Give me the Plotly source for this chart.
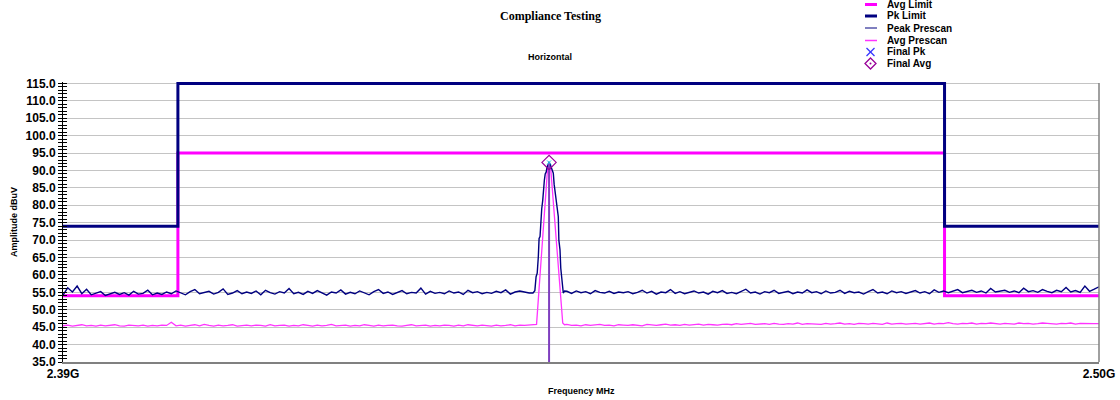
import plotly.graph_objects as go

# ---------------- data ----------------
FREQ_START = 2390.0      # MHz, sweep start
FREQ_STEP = 0.5          # MHz, prescan grid step
X_MIN, X_MAX = 2390.0, 2500.0
Y_MIN, Y_MAX = 35.0, 115.4

XTICK_VALS = [2390.0, 2500.0]
XTICK_TEXT = ["2.39G", "2.50G"]

# Limits (step lines, value holds until next frequency)
LIMIT_FREQ = [2390.0, 2402.2, 2483.6, 2500.0]
AVG_LIMIT = [54.0, 95.0, 54.0, 54.0]
PK_LIMIT = [74.0, 115.0, 74.0, 74.0]

# Peak prescan noise floor on 0.5 MHz grid (2390 .. 2500)
PEAK_NOISE = [
    54.2, 56.3, 55.1, 56.8, 54.6, 55.9, 54.3, 54.8, 55.2, 54.1, 54.6, 55.0, 54.4, 54.9, 54.2, 55.3, 54.5, 54.7, 55.6, 54.3,
    54.8, 54.4, 55.1, 54.6, 55.4, 54.9, 54.3, 55.2, 55.8, 54.6, 54.9, 55.3, 54.5, 55.0, 56.0, 54.4, 54.8, 55.5, 54.6, 55.1,
    54.7, 55.4, 54.3, 55.6, 54.9, 54.5, 55.2, 54.8, 56.1, 54.6, 55.0, 54.4, 55.3, 54.7, 55.5, 54.9, 54.2, 55.1, 54.8, 55.7,
    54.5, 55.0, 54.6, 55.4, 54.9, 54.3, 55.2, 55.8, 54.7, 55.1, 54.4, 54.9, 55.5, 54.6, 55.0, 54.8, 56.2, 54.5, 55.3, 54.7,
    55.0, 54.6, 55.4, 54.8, 55.1, 54.4, 55.6, 54.9, 55.2, 54.6, 55.0, 54.7, 55.3, 54.9, 55.7, 54.5, 55.1, 55.4, 55.0, 54.8,
    54.8, 55.0, 55.2, 55.0, 55.0, 55.0, 55.0, 55.3, 54.7, 55.4, 54.9, 55.2, 54.6, 55.5, 55.0, 54.8, 55.3, 54.7, 55.1, 54.9,
    55.2, 54.6, 55.0, 55.6, 54.8, 55.3, 54.5, 55.1, 54.9, 55.8, 54.7, 55.2, 54.6, 55.0, 55.4, 54.8, 55.1, 54.5, 55.3, 54.9,
    55.5, 54.7, 55.0, 54.6, 55.3, 55.9, 54.8, 55.1, 54.5, 55.2, 54.9, 55.6, 54.7, 55.0, 55.3, 54.6, 55.1, 54.8, 55.7, 54.9,
    55.2, 54.6, 55.4, 54.8, 55.0, 55.6, 54.7, 55.3, 54.9, 55.1, 54.5, 55.2, 55.8, 54.8, 55.1, 54.6, 55.4, 54.9, 55.2, 54.7,
    55.0, 55.5, 54.8, 55.2, 54.6, 55.7, 55.0, 55.4, 54.9, 55.3, 55.8, 54.9, 55.2, 55.6, 55.0, 55.4, 54.8, 56.1, 55.1, 55.3,
    55.6, 55.0, 55.4, 54.9, 56.2, 55.2, 55.5, 55.0, 55.8, 55.3, 54.9, 55.6, 55.2, 56.4, 55.1, 55.5, 55.0, 56.8, 55.3, 55.9,
    56.6,
]

# Average prescan noise floor on 0.5 MHz grid (2390 .. 2500)
AVG_NOISE = [
    45.4, 45.6, 45.3, 45.5, 45.7, 45.4, 45.5, 45.3, 45.6, 45.4, 45.5, 45.7, 45.4, 45.3, 45.6, 45.5, 45.4, 45.6, 45.3, 45.5,
    45.4, 45.6, 45.5, 46.4, 45.4, 45.6, 45.3, 45.5, 45.7, 45.4, 45.8, 45.5, 45.3, 45.6, 45.4, 45.5, 45.7, 45.3, 45.5, 45.6,
    45.4, 45.6, 45.5, 45.3, 45.7, 45.4, 45.5, 45.6, 45.3, 45.5, 45.4, 45.7, 45.5, 45.3, 45.6, 45.4, 45.5, 45.8, 45.4, 45.5,
    45.6, 45.3, 45.5, 45.4, 45.7, 45.5, 45.3, 45.6, 45.4, 45.5, 45.6, 45.4, 45.3, 45.5, 45.7, 45.4, 45.5, 45.6, 45.3, 45.5,
    45.4, 45.6, 45.5, 45.3, 45.6, 45.4, 45.7, 45.5, 45.4, 45.6, 45.5, 45.3, 45.6, 45.4, 45.5, 45.7, 45.4, 45.6, 45.5, 45.6,
    45.6, 45.5, 45.6, 45.6, 45.6, 45.6, 45.6, 45.8, 45.5, 45.6, 45.4, 45.7, 45.5, 45.6, 45.8, 45.5, 45.6, 45.4, 45.7, 45.6,
    45.5, 45.7, 45.6, 45.4, 45.8, 45.6, 45.5, 45.7, 45.9, 45.6, 45.7, 45.5, 45.8, 45.6, 45.7, 45.9, 45.6, 45.8, 45.7, 45.6,
    45.8, 45.9, 45.7, 46.0, 45.8, 45.9, 46.1, 45.8, 45.9, 46.0, 45.8, 46.1, 45.9, 45.8, 46.0, 45.9, 46.2, 45.8, 46.0, 45.9,
    46.0, 45.8, 46.1, 45.9, 46.0, 46.2, 45.9, 46.0, 45.8, 46.1, 46.0, 45.9, 46.1, 46.0, 45.8, 46.2, 45.9, 46.0, 46.1, 45.9,
    46.0, 46.1, 45.9, 46.0, 46.2, 45.9, 46.1, 46.0, 46.3, 46.0, 45.9, 46.1, 46.0, 46.2, 45.9, 46.1, 46.0, 46.2, 46.0, 45.9,
    46.1, 46.0, 45.9, 46.2, 46.0, 46.1, 45.9, 46.0, 46.2, 46.1, 46.0, 45.9, 46.1, 46.0, 46.2, 45.9, 46.1, 46.0, 46.1, 46.0,
    46.0,
]

# Carrier region, finer resolution
CARRIER_PK_FREQ = [2439.90, 2440.10, 2440.23, 2440.35, 2440.47, 2440.55, 2440.65, 2440.75, 2440.83, 2440.94,
                   2441.02, 2441.11, 2441.20, 2441.30, 2441.40, 2441.50, 2441.61, 2441.70, 2441.82, 2441.95,
                   2442.06, 2442.15, 2442.25, 2442.35, 2442.45, 2442.59, 2442.65, 2442.77, 2442.85, 2442.95,
                   2443.05, 2443.12, 2443.25]
CARRIER_PK_LEVEL = [54.8, 55.5, 59.5, 60.5, 65.3, 70.5, 71.0, 78.0, 79.0, 81.5,
                    86.0, 87.2, 89.0, 89.5, 91.0, 91.8, 92.3, 92.0, 91.2, 90.0,
                    89.2, 86.0, 84.0, 81.5, 79.0, 76.7, 70.0, 67.2, 62.0, 59.5,
                    56.0, 54.8, 55.4]
CARRIER_AVG_FREQ = [2440.00, 2440.28, 2441.45, 2441.61, 2441.80, 2442.64, 2443.06, 2443.25]
CARRIER_AVG_LEVEL = [45.6, 45.8, 90.5, 92.0, 90.0, 62.0, 46.2, 45.7]
CARRIER_LO, CARRIER_HI = 2439.8, 2443.3

# Final measurements
FINAL_FREQ = [2441.61]
FINAL_PK = [92.3]
FINAL_AVG = [92.3]

LEGEND_NAMES = ["Avg Limit", "Pk Limit", "Peak Prescan", "Avg Prescan", "Final Pk", "Final Avg"]

# ---------------- styling ----------------
NAVY = "#000080"
MAGENTA = "#ff00ff"
PINK = "#ff33ff"
PURPLE = "#990099"
STICK = "#7f3fbf"
BLUE = "#3333ff"
GRID = "#c4c4c4"
FONT = "Liberation Sans"

W, H = 1120, 400
ML, MR, MT, MB = 63, 21, 82, 38
PW, PH = W - ML - MR, H - MT - MB


def px(x):
    return (x - ML) / PW


def py(y):
    return (H - MB - y) / PH


def merge(freqs_grid, levels_grid, cf, cl):
    fx, fy = [], []
    for f, v in zip(freqs_grid, levels_grid):
        if f < CARRIER_LO:
            fx.append(f); fy.append(v)
    fx += cf; fy += cl
    for f, v in zip(freqs_grid, levels_grid):
        if f > CARRIER_HI:
            fx.append(f); fy.append(v)
    return fx, fy


grid = [FREQ_START + i * FREQ_STEP for i in range(len(PEAK_NOISE))]
pk_x, pk_y = merge(grid, PEAK_NOISE, CARRIER_PK_FREQ, CARRIER_PK_LEVEL)
av_x, av_y = merge(grid, AVG_NOISE, CARRIER_AVG_FREQ, CARRIER_AVG_LEVEL)

fig = go.Figure()
fig.add_trace(go.Scatter(x=LIMIT_FREQ, y=AVG_LIMIT, mode="lines", line=dict(color=MAGENTA, width=3, shape="hv"),
                         name=LEGEND_NAMES[0], showlegend=False))
fig.add_trace(go.Scatter(x=LIMIT_FREQ, y=PK_LIMIT, mode="lines", line=dict(color=NAVY, width=3, shape="hv"),
                         name=LEGEND_NAMES[1], showlegend=False))
fig.add_trace(go.Scatter(x=av_x, y=av_y, mode="lines", line=dict(color=PINK, width=1.3),
                         name=LEGEND_NAMES[3], showlegend=False))
fig.add_trace(go.Scatter(x=pk_x, y=pk_y, mode="lines", line=dict(color=NAVY, width=1.4),
                         name=LEGEND_NAMES[2], showlegend=False))
# marker stick for final measurement
fig.add_trace(go.Scatter(x=[FINAL_FREQ[0], FINAL_FREQ[0]], y=[Y_MIN, FINAL_AVG[0]], mode="lines",
                         line=dict(color=STICK, width=2), showlegend=False, hoverinfo="skip"))
fig.add_trace(go.Scatter(x=FINAL_FREQ, y=FINAL_PK, mode="markers", name=LEGEND_NAMES[4], showlegend=False,
                         marker=dict(symbol="x-thin-open", size=4, line=dict(color=BLUE, width=1)), cliponaxis=False))
fig.add_trace(go.Scatter(x=FINAL_FREQ, y=FINAL_AVG, mode="markers", name=LEGEND_NAMES[5], showlegend=False,
                         marker=dict(symbol="diamond-open", size=11, color=PURPLE, line=dict(color=PURPLE, width=1.2)),
                         cliponaxis=False))
# dummy trace to realise the overlay axis used for crossing tick marks
fig.add_trace(go.Scatter(x=[X_MIN], y=[Y_MIN], yaxis="y2", mode="markers", marker=dict(opacity=0),
                         showlegend=False, hoverinfo="skip"))

tickfont = dict(family=FONT, size=12, color="black", weight="bold")
fig.update_layout(
    width=W, height=H,
    margin=dict(l=ML, r=MR, t=MT, b=MB, autoexpand=False),
    paper_bgcolor="white", plot_bgcolor="white",
    showlegend=False,
    xaxis=dict(range=[X_MIN, X_MAX], showgrid=False, zeroline=False,
               tickvals=XTICK_VALS, ticktext=XTICK_TEXT, ticks="", tickfont=tickfont,
               showline=True, linecolor="#808080", linewidth=2, automargin=False),
    yaxis=dict(range=[Y_MIN, Y_MAX], dtick=5, tick0=0, tickformat=".1f", showgrid=True, gridcolor=GRID,
               gridwidth=1, zeroline=False, showline=True, linecolor="black", linewidth=1,
               ticks="outside", ticklen=4, tickcolor="black", tickfont=tickfont, automargin=False,
               minor=dict(dtick=1, ticks="outside", ticklen=4, tickcolor="black", showgrid=False)),
    yaxis2=dict(range=[Y_MIN, Y_MAX], overlaying="y", anchor="x", side="left", dtick=5, tick0=0,
                showgrid=False, zeroline=False, showticklabels=False, ticks="inside", ticklen=4,
                tickcolor="black", automargin=False,
                minor=dict(dtick=1, ticks="inside", ticklen=4, tickcolor="black", showgrid=False)),
)

shapes = [dict(type="line", xref="paper", yref="paper", x0=1, x1=1, y0=0, y1=py(83),
               line=dict(color="#808080", width=1.5))]
ann = []
ann.append(dict(text="Compliance Testing", x=px(550), y=py(16), xref="paper", yref="paper", showarrow=False,
                font=dict(family="Liberation Serif", size=12, color="black", weight="bold"),
                xanchor="center", yanchor="middle"))
ann.append(dict(text="Horizontal", x=px(550), y=py(57), xref="paper", yref="paper", showarrow=False,
                font=dict(family=FONT, size=9, color="black", weight="bold"), xanchor="center", yanchor="middle"))
ann.append(dict(text="Amplitude dBuV", x=px(14), y=0.5, xref="paper", yref="paper", showarrow=False, textangle=-90,
                font=dict(family=FONT, size=9, color="black", weight="bold"), xanchor="center", yanchor="middle"))
ann.append(dict(text="Frequency MHz", x=px(581), y=py(391), xref="paper", yref="paper", showarrow=False,
                font=dict(family=FONT, size=9, color="black", weight="bold"), xanchor="center", yanchor="middle"))

# manual legend
rows = [4.5, 16, 28, 40.5, 52, 63.5]
lx0, lx1, tx = 865, 877, 885
shapes.append(dict(type="line", xref="paper", yref="paper", x0=px(lx0), x1=px(lx1), y0=py(rows[0]), y1=py(rows[0]),
                   line=dict(color=MAGENTA, width=3)))
shapes.append(dict(type="line", xref="paper", yref="paper", x0=px(lx0), x1=px(lx1), y0=py(rows[1]), y1=py(rows[1]),
                   line=dict(color=NAVY, width=3)))
shapes.append(dict(type="line", xref="paper", yref="paper", x0=px(lx0), x1=px(lx1), y0=py(rows[2]), y1=py(rows[2]),
                   line=dict(color=NAVY, width=1)))
shapes.append(dict(type="line", xref="paper", yref="paper", x0=px(lx0), x1=px(lx1), y0=py(rows[3]), y1=py(rows[3]),
                   line=dict(color=PINK, width=1.5)))
cx, cy = 870.5, rows[4]
for dx in (-1, 1):
    shapes.append(dict(type="line", xref="paper", yref="paper", x0=px(cx - 4), x1=px(cx + 4),
                       y0=py(cy - 4 * dx), y1=py(cy + 4 * dx), line=dict(color=BLUE, width=1.2)))
cx, cy = 870.5, rows[5]
shapes.append(dict(type="path", xref="paper", yref="paper",
                   path=f"M {px(cx)},{py(cy-5.5)} L {px(cx+5.5)},{py(cy)} L {px(cx)},{py(cy+5.5)} L {px(cx-5.5)},{py(cy)} Z",
                   line=dict(color=PURPLE, width=1.3)))
shapes.append(dict(type="circle", xref="paper", yref="paper", x0=px(cx - 1), x1=px(cx + 1), y0=py(cy + 1),
                   y1=py(cy - 1), fillcolor=PURPLE, line=dict(color=PURPLE, width=0)))
for name, r in zip(LEGEND_NAMES, rows):
    ann.append(dict(text=name, x=px(tx), y=py(r), xref="paper", yref="paper", showarrow=False,
                    font=dict(family=FONT, size=10, color="black", weight="bold"), xanchor="left", yanchor="middle"))

fig.update_layout(shapes=shapes, annotations=ann)
fig.write_html("out.html")
